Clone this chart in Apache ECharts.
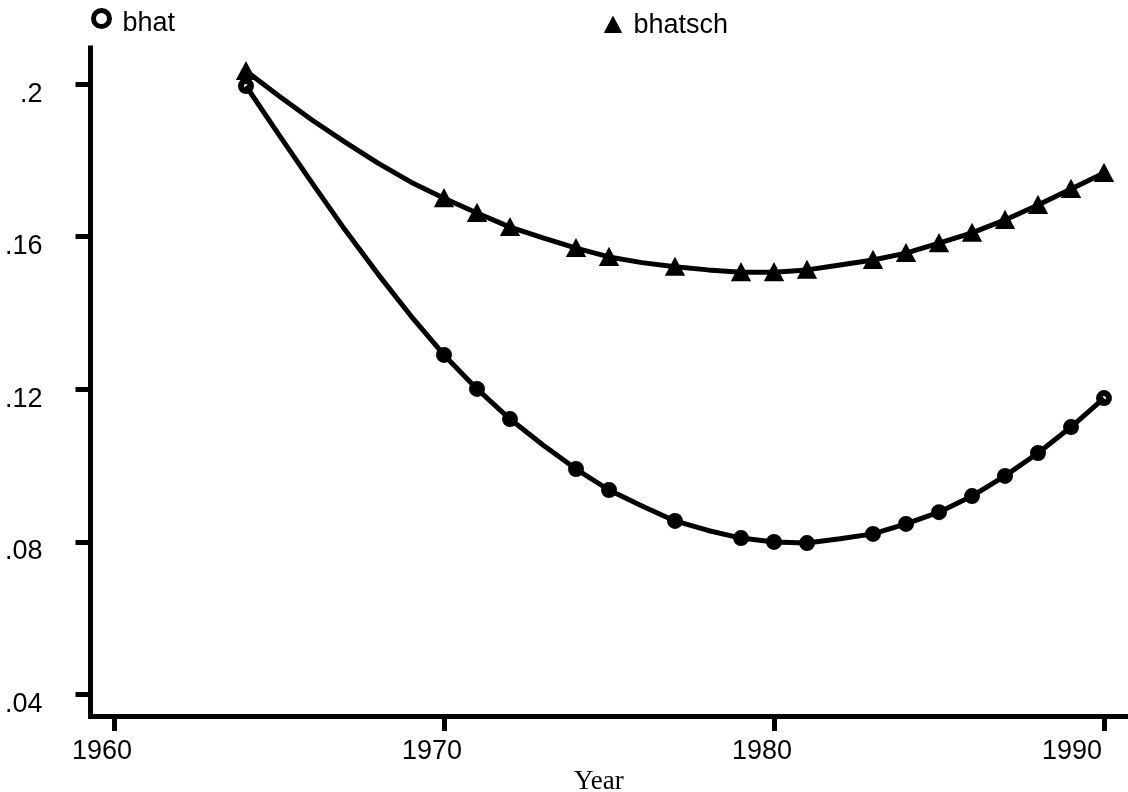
<!DOCTYPE html>
<html>
<head>
<meta charset="utf-8">
<title>bhat and bhatsch by Year</title>
<script src="https://cdn.jsdelivr.net/npm/echarts@6/dist/echarts.min.js"></script>
<style>
  html, body { margin: 0; padding: 0; background: #fff; }
  #chart { width: 1128px; height: 792px; }
</style>
</head>
<body>
<div id="chart"></div>
<script>
// Yearly values of the two estimates (the connecting lines run through every year)
const years = [1964, 1965, 1966, 1967, 1968, 1969, 1970, 1971, 1972, 1973, 1974, 1975, 1976, 1977,
               1978, 1979, 1980, 1981, 1982, 1983, 1984, 1985, 1986, 1987, 1988, 1989, 1990];
const bhat = [0.1995, 0.1867, 0.1741, 0.1618, 0.1502, 0.1392, 0.1290, 0.1201, 0.1122, 0.1054,
              0.0991, 0.0936, 0.0894, 0.0855, 0.0830, 0.0810, 0.0800, 0.0797, 0.0808, 0.0821,
              0.0847, 0.0878, 0.0920, 0.0973, 0.1033, 0.1101, 0.1177];
const bhatsch = [0.2034, 0.1969, 0.1906, 0.1848, 0.1793, 0.1743, 0.1701, 0.1662, 0.1625, 0.1597,
                 0.1570, 0.1547, 0.1532, 0.1521, 0.1513, 0.1507, 0.1507, 0.1513, 0.1526, 0.1539,
                 0.1557, 0.1583, 0.1610, 0.1644, 0.1683, 0.1725, 0.1767];
// Years that carry a marker
const markerYears = [1964, 1970, 1971, 1972, 1974, 1975, 1977, 1979, 1980, 1981,
                     1983, 1984, 1985, 1986, 1987, 1988, 1989, 1990];
// Axis ticks and their labels
const xTicks = [1960, 1970, 1980, 1990];
const yTicks = [0.04, 0.08, 0.12, 0.16, 0.2];
const yTickLabels = ['.04', '.08', '.12', '.16', '.2'];

const linePairs = vals => years.map((y, i) => [y, vals[i]]);
const markerPairs = vals => years.map((y, i) => [y, vals[i]]).filter(p => markerYears.includes(p[0]));

const SANS = '"Liberation Sans", Arial, sans-serif';
const SERIF = '"Liberation Serif", "Times New Roman", serif';
const INK = '#000';

const chart = echarts.init(document.getElementById('chart'), null, { renderer: 'canvas' });

chart.setOption({
  animation: false,
  backgroundColor: '#fff',
  title: {
    text: 'Year',
    left: 574,
    top: 768,
    padding: 0,
    textStyle: { fontFamily: SERIF, fontSize: 27, fontWeight: 'normal', color: INK }
  },
  legend: [
    {
      data: ['bhat'],
      left: 91, top: 8,
      padding: 0,
      itemWidth: 16, itemHeight: 16, itemGap: 0,
      itemStyle: { color: 'rgba(0,0,0,0)', borderColor: INK, borderWidth: 5 },
      formatter: n => '{t|' + n + '}',
      textStyle: {
        rich: { t: { fontFamily: SANS, fontSize: 27, color: INK, padding: [11, 0, 0, 8] } }
      }
    },
    {
      data: ['bhatsch'],
      left: 604, top: 12,
      padding: 0,
      itemWidth: 17, itemHeight: 16, itemGap: 0,
      itemStyle: { color: INK, borderColor: INK, borderWidth: 1 },
      formatter: n => '{t|' + n + '}',
      textStyle: {
        rich: { t: { fontFamily: SANS, fontSize: 27, color: INK, padding: [2, 0, 0, 7] } }
      }
    }
  ],
  grid: { left: 90.5, right: 0, top: 48, bottom: 76, containLabel: false },
  xAxis: {
    type: 'value',
    min: 1959.288,
    max: 1990.727,
    splitLine: { show: false },
    axisLine: { show: true, onZero: false, lineStyle: { color: INK, width: 5, cap: 'square' } },
    axisTick: { show: true, customValues: xTicks, length: 15, lineStyle: { color: INK, width: 5 } },
    axisLabel: {
      customValues: xTicks,
      margin: 22,
      formatter: v => (v === 1990 ? '{e|' + v + '}' : '{n|' + v + '}'),
      rich: {
        n: { fontFamily: SANS, fontSize: 27, color: INK, padding: [0, 24, 0, 0] },
        e: { fontFamily: SANS, fontSize: 27, color: INK, padding: [0, 64, 0, 0] }
      }
    }
  },
  yAxis: {
    type: 'value',
    min: 0.034364,
    max: 0.20946,
    splitLine: { show: false },
    axisLine: { show: true, onZero: false, lineStyle: { color: INK, width: 5, cap: 'square' } },
    axisTick: { show: true, customValues: yTicks, length: 15, lineStyle: { color: INK, width: 5 } },
    axisLabel: {
      customValues: yTicks,
      margin: 48,
      formatter: v => {
        const i = yTicks.findIndex(t => Math.abs(t - v) < 1e-9);
        return i >= 0 ? '{y|' + yTickLabels[i] + '}' : '';
      },
      rich: {
        y: { fontFamily: SANS, fontSize: 27, color: INK, padding: [20, 0, 0, 0] }
      }
    }
  },
  series: [
    {
      type: 'line',
      name: 'bhat-line',
      data: linePairs(bhat),
      showSymbol: false,
      symbol: 'none',
      lineStyle: { color: INK, width: 5 },
      z: 2
    },
    {
      type: 'line',
      name: 'bhatsch-line',
      data: linePairs(bhatsch),
      showSymbol: false,
      symbol: 'none',
      lineStyle: { color: INK, width: 5 },
      z: 2
    },
    {
      type: 'scatter',
      name: 'bhat',
      data: markerPairs(bhat),
      symbol: 'circle',
      symbolSize: 10,
      itemStyle: { color: 'rgba(0,0,0,0)', borderColor: INK, borderWidth: 6, opacity: 1 },
      z: 3
    },
    {
      type: 'scatter',
      name: 'bhatsch',
      data: markerPairs(bhatsch),
      symbol: 'triangle',
      symbolSize: [17, 16],
      itemStyle: { color: INK, borderColor: INK, borderWidth: 2, opacity: 1 },
      z: 3
    }
  ]
});
</script>
</body>
</html>
